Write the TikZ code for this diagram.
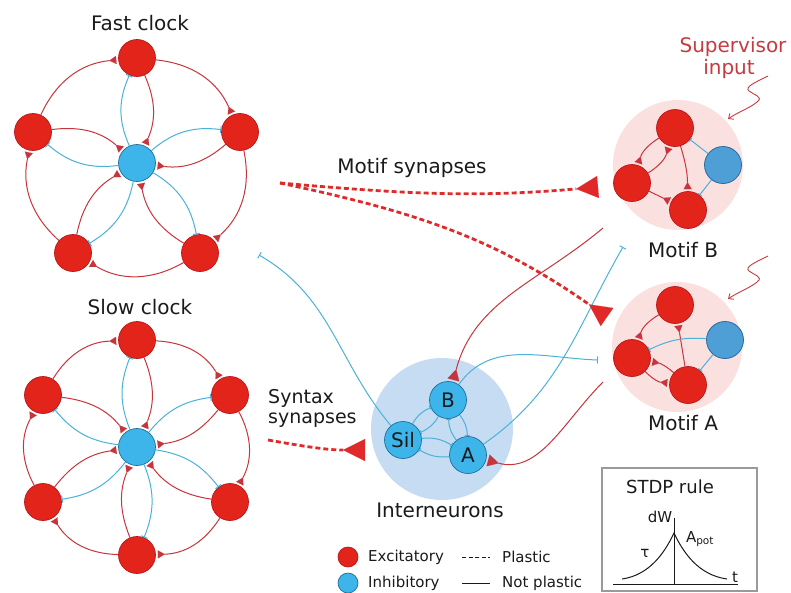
\documentclass[tikz,border=0pt]{standalone}
\usepackage{fontspec}
\setmainfont{DejaVu Sans}
\usetikzlibrary{arrows.meta}
\definecolor{excred}{HTML}{E3241B}
\definecolor{excdark}{HTML}{B8161A}
\definecolor{ringred}{HTML}{C8343C}
\definecolor{dotred}{HTML}{E02A2A}
\definecolor{inhblue}{HTML}{3DB5EA}
\definecolor{inhdark}{HTML}{1D6E9A}
\definecolor{linblue}{HTML}{4AB2D8}
\definecolor{motblue}{HTML}{4F9FD7}
\definecolor{motdark}{HTML}{2B6AA0}
\definecolor{pinkbg}{HTML}{FBE0E0}
\definecolor{intbg}{HTML}{C6DCF2}
\definecolor{supred}{HTML}{C63A40}
\definecolor{txt}{HTML}{1A1A1A}
\definecolor{boxgray}{HTML}{9A9A9A}
\begin{document}
\begin{tikzpicture}[x=1pt,y=1pt,
  exc/.style={circle,fill=excred,draw=excdark,line width=0.7pt,minimum size=37pt,inner sep=0pt},
  inh/.style={circle,fill=inhblue,draw=inhdark,line width=0.7pt,minimum size=37pt,inner sep=0pt,font=\fontsize{20}{22}\selectfont,text=txt},
  minh/.style={circle,fill=motblue,draw=motdark,line width=0.8pt,minimum size=37pt,inner sep=0pt},
  eline/.style={draw=ringred,line width=1pt,-{Triangle[reversed,length=7pt,width=8pt,line width=0.1pt]},shorten >=2pt},
  bigeline/.style={draw=ringred,line width=1pt,-{Triangle[reversed,length=11pt,width=12pt,line width=0.1pt]},shorten >=2pt},
  iline/.style={draw=linblue,line width=1pt,-{Bar[width=7pt]}},
  sline/.style={draw=linblue,line width=1pt,-{Bar[width=5pt]}},
  plastic/.style={draw=dotred,line width=2.8pt,dash pattern=on 5pt off 3pt,-{Triangle[reversed,length=22pt,width=22pt,line width=0.1pt]}},
  lbl/.style={font=\fontsize{20}{22}\selectfont,text=txt,inner sep=0pt},
  small/.style={font=\fontsize{15}{17}\selectfont,text=txt,inner sep=0pt},
  squig/.style={draw=supred,line width=0.9pt,-{Straight Barb[length=4pt,width=7pt]}}
]
\useasboundingbox (0,0) rectangle (791,-592);

% ---------- Fast clock ----------
\node[lbl] (tfast) at (140,-23) {Fast clock};
\node[inh] (fc) at (137,-163) {};
\node[exc] (f1) at (137,-58) {};
\node[exc] (f2) at (240,-132) {};
\node[exc] (f3) at (200,-253) {};
\node[exc] (f4) at (73,-253) {};
\node[exc] (f5) at (33,-132) {};
\foreach \a/\b in {f5/f1,f1/f2,f2/f3,f3/f4,f4/f5}
  \draw[eline] (\a) to[bend left=30] (\b);
\foreach \n in {f1,f2,f3,f4,f5}{
  \draw[iline] (fc) to[bend left=24] (\n);
  \draw[eline] (\n) to[bend left=24] (fc);
}

% ---------- Slow clock ----------
\node[lbl] (tslow) at (140,-307) {Slow clock};
\node[inh] (sc) at (137,-447) {};
\node[exc] (s1) at (137,-340) {};
\node[exc] (s2) at (230,-395) {};
\node[exc] (s3) at (230,-502) {};
\node[exc] (s4) at (137,-555) {};
\node[exc] (s5) at (43,-502) {};
\node[exc] (s6) at (43,-395) {};
\foreach \a/\b in {s6/s1,s1/s2,s2/s3,s3/s4,s4/s5,s5/s6}
  \draw[eline] (\a) to[bend left=28] (\b);
\foreach \n in {s1,s2,s3,s4,s5,s6}{
  \draw[iline] (sc) to[bend left=22] (\n);
  \draw[eline] (\n) to[bend left=22] (sc);
}

% ---------- Motif B ----------
\node[circle,fill=pinkbg,minimum size=130pt,inner sep=0pt] (mBbg) at (678,-165) {};
\node[exc] (mb1) at (675,-128) {};
\node[exc] (mb2) at (632,-183) {};
\node[exc] (mb3) at (688,-210) {};
\node[minh] (mbi) at (723,-165) {};
\draw[eline] (mb2) to[bend right=20] (mb1);
\draw[eline] (mb1) to[bend right=20] (mb2);
\draw[eline] (mb1) to[bend left=8] (mb3);
\draw[eline] (mb2) -- (mb3);
\draw[sline] (mbi) -- (mb1);
\draw[sline] (mbi) -- (mb3);
\node[lbl] (tmB) at (683,-250) {Motif B};

% ---------- Motif A ----------
\node[circle,fill=pinkbg,minimum size=130pt,inner sep=0pt] (mAbg) at (677,-347) {};
\node[exc] (ma1) at (675,-305) {};
\node[exc] (ma2) at (632,-358) {};
\node[exc] (ma3) at (688,-385) {};
\node[minh] (mai) at (725,-340) {};
\draw[eline] (ma1) to[bend right=20] (ma2);
\draw[eline] (ma3) -- (ma1);
\draw[eline] (ma3) to[bend right=15] (ma2);
\draw[eline] (ma2) to[bend right=20] (ma3);
\draw[sline] (mai) to[bend right=15] (ma2);
\draw[sline] (mai) -- (ma3);
\node[lbl] (tmA) at (683,-423) {Motif A};

% ---------- Supervisor input ----------
\node[lbl,text=supred] (tsup1) at (733,-47) {Supervisor};
\node[lbl,text=supred] (tsup2) at (729,-69) {input};
\coordinate (sqB0) at (768,-76);
\coordinate (sqB1) at (749,-91);
\coordinate (sqB2) at (757,-102);
\coordinate (sqB3) at (728,-119);
\draw[squig] (sqB0) .. controls (756,-82) and (744,-87) .. (sqB1)
  .. controls (754,-95) and (764,-97) .. (sqB2)
  .. controls (750,-108) and (738,-112) .. (sqB3);
\coordinate (sqA0) at (768,-256);
\coordinate (sqA1) at (749,-271);
\coordinate (sqA2) at (757,-282);
\coordinate (sqA3) at (728,-299);
\draw[squig] (sqA0) .. controls (756,-262) and (744,-267) .. (sqA1)
  .. controls (754,-275) and (764,-277) .. (sqA2)
  .. controls (750,-288) and (738,-292) .. (sqA3);

% ---------- Interneurons ----------
\node[circle,fill=intbg,minimum size=142pt,inner sep=0pt] (intbg) at (442,-429) {};
\node[inh] (iB) at (448,-400) {B};
\node[inh] (iS) at (403,-440) {Sil};
\node[inh] (iA) at (468,-455) {A};
\foreach \a/\b in {iS/iB,iB/iS,iB/iA,iA/iB,iS/iA,iA/iS}
  \draw[sline] (\a) to[bend left=18] (\b);
\node[lbl] (tint) at (440,-510) {Interneurons};

% ---------- Long connectors ----------
\coordinate (fcT) at (259,-255);
\draw[iline] (iS) to[out=130,in=-30] (fcT);
\coordinate (maT) at (598,-360);
\draw[iline] (iB) to[out=55,in=178] (maT);
\coordinate (mbT) at (623,-247);
\draw[iline] (iA) to[out=35,in=-120] (mbT);
\coordinate (mbS) at (603,-228);
\draw[bigeline] (mbS) to[out=-140,in=75] (iB);
\coordinate (maS) at (603,-382);
\draw[bigeline] (maS) to[out=-135,in=-15] (iA);

% ---------- Plastic synapses ----------
\node[lbl] (tmotif) at (412,-168) {Motif synapses};
\coordinate (ms) at (280,-183);
\coordinate (msB) at (598,-187);
\coordinate (msA) at (607,-317);
\draw[plastic] (ms) to[out=-5,in=185] (msB);
\draw[plastic] (ms) to[out=-12,in=145] (msA);
\node[lbl,font=\fontsize{19}{20}\selectfont,align=left,anchor=west] (tsyn) at (268,-408) {Syntax\\synapses};
\coordinate (ss) at (268,-440);
\coordinate (ssE) at (365,-450);
\draw[plastic] (ss) to[out=-10,in=180] (ssE);

% ---------- Legend ----------
\node[exc,minimum size=20pt] (lgE) at (348,-557) {};
\node[inh,minimum size=20pt] (lgI) at (348,-583) {};
\node[small,anchor=west] (lgEt) at (368,-557) {Excitatory};
\node[small,anchor=west] (lgIt) at (368,-583) {Inhibitory};
\coordinate (d1) at (462,-557); \coordinate (d2) at (490,-557);
\coordinate (n1) at (462,-583); \coordinate (n2) at (490,-583);
\draw[txt,line width=0.8pt,dash pattern=on 4pt off 2.5pt] (d1) -- (d2);
\draw[txt,line width=0.8pt] (n1) -- (n2);
\node[small,anchor=west] (lgPt) at (502,-557) {Plastic};
\node[small,anchor=west] (lgNt) at (502,-583) {Not plastic};

% ---------- STDP box ----------
\draw[boxgray,line width=1.3pt] (602,-468) rectangle (757,-591);
\node[lbl,font=\fontsize{18}{20}\selectfont] (tstdp) at (670,-487) {STDP rule};
\coordinate (ax0) at (613,-584); \coordinate (ax1) at (738,-584);
\coordinate (ay0) at (674,-584); \coordinate (ay1) at (674,-518);
\draw[txt,line width=1pt] (ax0) -- (ax1);
\draw[txt,line width=1pt] (ay0) -- (ay1);
\coordinate (pk) at (674,-533);
\draw[txt,line width=1pt] (622,-579) .. controls (650,-575) and (665,-552) .. (pk)
  .. controls (683,-552) and (698,-575) .. (727,-579);
\node[small] (ldw) at (660,-517) {dW};
\node[small] (lap) at (700,-539) {A\textsubscript{pot}};
\node[small] (ltau) at (645,-553) {τ};
\node[small] (lt) at (735,-577) {t};
\end{tikzpicture}
\end{document}
